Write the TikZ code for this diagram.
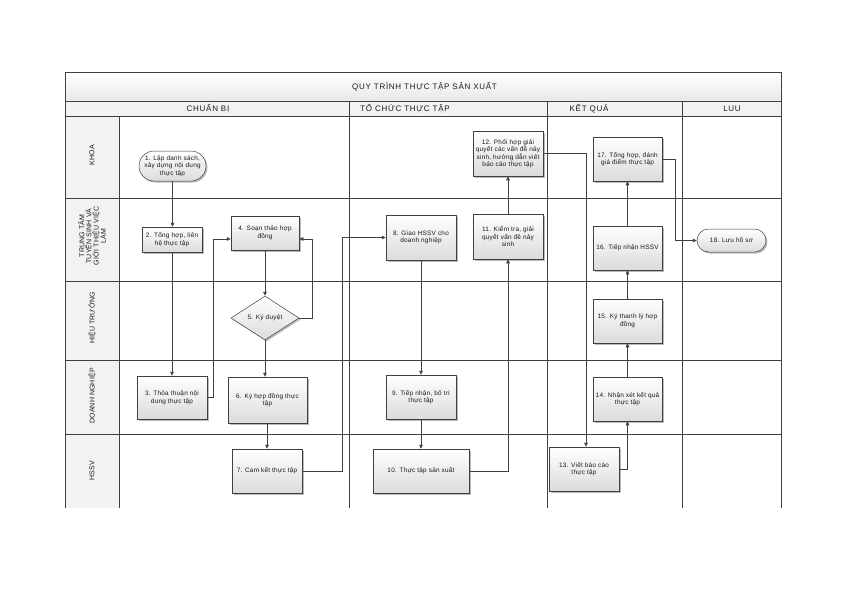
\documentclass[tikz,border=0pt]{standalone}
\usepackage{fontspec}
\setmainfont{Liberation Sans}
\newfontfamily\hfont[LetterSpace=9]{Liberation Sans}
\newfontfamily\bfont[LetterSpace=4]{Liberation Sans}
\newfontfamily\lfont[LetterSpace=2]{Liberation Sans}
\usetikzlibrary{shapes.geometric,shapes.misc,shadows,arrows.meta}
\definecolor{ln}{HTML}{404040}
\begin{document}
\begin{tikzpicture}[x=1pt,y=-1pt,
  grid/.style={draw=ln,line width=0.7pt},
  box/.style={draw=ln, line width=0.5pt, top color=white, bottom color=black!14,
    drop shadow={shadow xshift=1.5pt,shadow yshift=-1.5pt,fill=black!45,opacity=0.6},
    align=center, inner sep=1pt, font=\bfont\fontsize{6.4}{7.5}\selectfont, text=black!90},
  term/.style={box, rounded rectangle},
  dec/.style={box, diamond, aspect=1.55, inner sep=0pt},
  hdr/.style={font=\hfont\fontsize{8}{9.6}\selectfont, text=black!90, inner sep=0pt},
  lbl/.style={rotate=90, align=center, font=\lfont\fontsize{7}{7.2}\selectfont, text=black!90, inner sep=0pt},
  arr/.style={draw=ln, line width=0.6pt, -{Triangle[length=4pt,width=3.6pt]}}
]
\useasboundingbox (0,0) rectangle (842,595);
% fills
\fill[top color=white,bottom color=black!9] (65,72) rectangle (781,101);
\fill[black!5] (65,101) rectangle (781,116.5);
\fill[black!5] (65,116.5) rectangle (119,508);
% grid
\draw[grid] (65,508) -- (65,72) -- (781,72) -- (781,508);
\draw[grid] (65,101) -- (781,101);
\draw[grid] (65,116.5) -- (781,116.5);
\foreach \yy in {198,281,360,434} {\draw[grid] (65,\yy) -- (781,\yy);}
\draw[grid] (119,116.5) -- (119,508);
\foreach \xx in {349,547.5,682} {\draw[grid] (\xx,101) -- (\xx,508);}
% headers
\node[hdr] (title) at (424.5,87) {QUY TRÌNH THỰC TẬP SẢN XUẤT};
\node[hdr] (h1) at (208,108.5) {CHUẨN BỊ};
\node[hdr] (h2) at (405,108.5) {TỔ CHỨC THỰC TẬP};
\node[hdr] (h3) at (589,108.5) {KẾT QUẢ};
\node[hdr] (h4) at (732,108.5) {LUU};
% row labels
\node[lbl] (r1) at (92,155) {KHOA};
\node[lbl] (r2) at (92,236) {TRUNG TÂM\\TUYỂN SINH VÀ\\GIỚI THIỆU VIỆC\\LÀM};
\node[lbl] (r3) at (92,318) {HIỆU TRƯỞNG};
\node[lbl] (r4) at (92,396) {DOANH NGHIỆP};
\node[lbl] (r5) at (92,471) {HSSV};
% boxes
\node[term, minimum width=69pt, minimum height=30pt] (b1) at (172.5,166) {1. Lập danh sách,\\xây dựng nội dung\\thực tập};
\node[box, minimum width=60pt, minimum height=25pt] (b2) at (172,239.5) {2. Tổng hợp, liên\\hệ thực tập};
\node[box, minimum width=70pt, minimum height=43pt] (b3) at (172,397.5) {3. Thỏa thuận nội\\dung thực tập};
\node[box, minimum width=68pt, minimum height=34pt] (b4) at (265,233) {4. Soạn thảo hợp\\đồng};
\node[dec, minimum width=68pt, minimum height=44pt] (b5) at (265,318) {5. Ký duyệt};
\node[box, minimum width=79pt, minimum height=46pt] (b6) at (267.5,400) {6. Ký hợp đồng thực\\tập};
\node[box, minimum width=70pt, minimum height=44pt] (b7) at (267,471) {7. Cam kết thực tập};
\node[box, minimum width=70pt, minimum height=45pt] (b8) at (421,237.5) {8. Giao HSSV cho\\doanh nghiệp};
\node[box, minimum width=70pt, minimum height=44pt] (b9) at (421,397) {9. Tiếp nhận, bố trí\\thực tập};
\node[box, minimum width=96pt, minimum height=44pt] (b10) at (421,471) {10. Thực tập sản xuất};
\node[box, minimum width=70pt, minimum height=45pt] (b11) at (508,236.5) {11. Kiểm tra, giải\\quyết vấn đề nảy\\sinh};
\node[box, minimum width=70pt, minimum height=45pt] (b12) at (508,153.5) {12. Phối hợp giải\\quyết các vấn đề nảy\\sinh, hướng dẫn viết\\báo cáo thực tập};
\node[box, minimum width=70pt, minimum height=44pt] (b13) at (584,469) {13. Viết báo cáo\\thực tập};
\node[box, minimum width=69pt, minimum height=44pt] (b14) at (627.5,399) {14. Nhận xét kết quả\\thực tập};
\node[box, minimum width=69pt, minimum height=44pt] (b15) at (627.5,321) {15. Ký thanh lý hợp\\đồng};
\node[box, minimum width=69pt, minimum height=44pt] (b16) at (627.5,248) {16. Tiếp nhận HSSV};
\node[box, minimum width=69pt, minimum height=44pt] (b17) at (627.5,159) {17. Tổng hợp, đánh\\giá điểm thực tập};
\node[term, minimum width=71pt, minimum height=23pt] (b18) at (731.5,240.5) {18. Lưu hồ sơ};
% helper coordinates
\coordinate (b4w) at ([yshift=-6pt]b4.west);
\coordinate (b4e) at ([yshift=-6pt]b4.east);
% connectors
\draw[arr] (b1.south) -- (b1.south |- b2.north);
\draw[arr] (b2.south) -- (b2.south |- b3.north);
\draw[arr] (b3.east) -- ++(6,0) |- (b4w);
\draw[arr] (b4.south) -- (b5.north);
\draw[arr] (b5.east) -- ++(13,0) |- (b4e);
\draw[arr] (b5.south) -- (b5.south |- b6.north);
\draw[arr] (b7.north |- b6.south) -- (b7.north);
\draw[arr] (b7.east) -- ++(40,0) |- (b8.west);
\draw[arr] (b8.south) -- (b9.north);
\draw[arr] (b9.south) -- (b10.north);
\draw[arr] (b10.east) -| (b11.south);
\draw[arr] (b11.north) -- (b12.south);
\draw[arr] (b12.east) -| ([xshift=2pt]b13.north);
\draw[arr] (b13.east) -| (b14.south);
\draw[arr] (b14.north) -- (b15.south);
\draw[arr] (b15.north) -- (b16.south);
\draw[arr] (b16.north) -- (b17.south);
\draw[arr] (b17.east) -- ++(13,0) |- (b18.west);
\end{tikzpicture}
\end{document}
